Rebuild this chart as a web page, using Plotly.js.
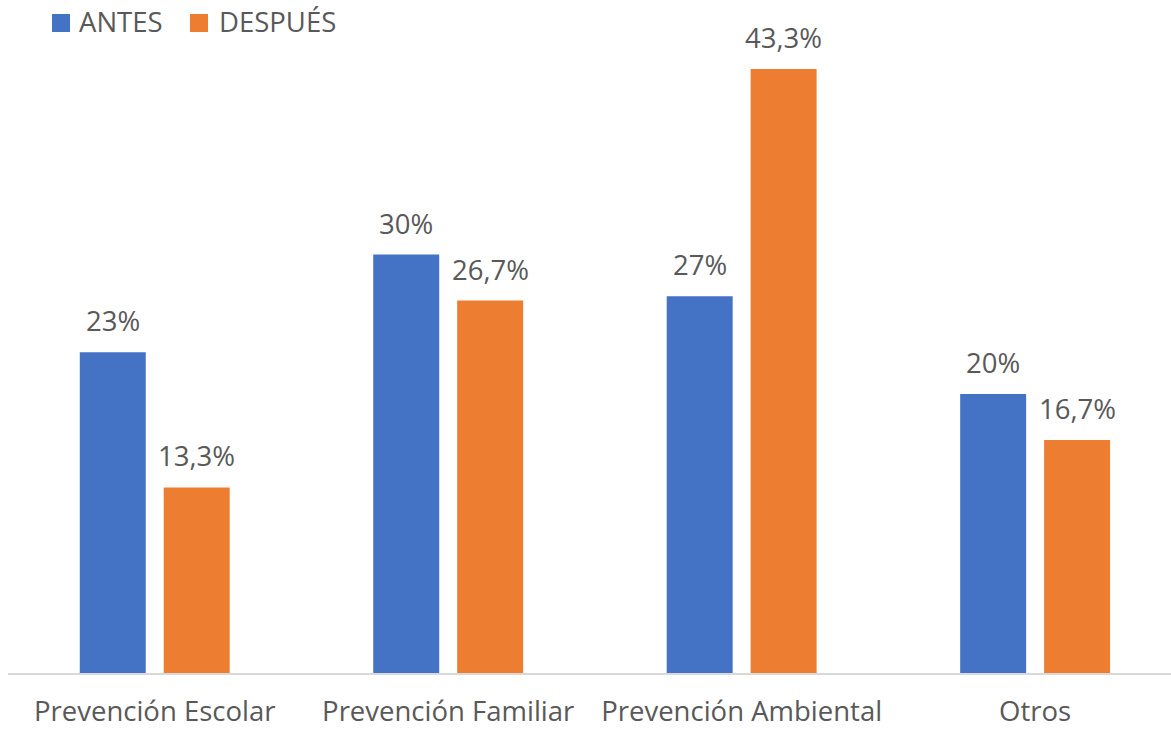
<!DOCTYPE html>
<html>
<head>
<meta charset="utf-8">
<script src="https://cdn.plot.ly/plotly-3.0.1.min.js"></script>
<style>html,body{margin:0;padding:0;background:#fff;}#chart{width:1171px;height:729px;}</style>
</head>
<body>
<div id="chart"></div>
<script>
const categories = ["Prevención Escolar", "Prevención Familiar", "Prevención Ambiental", "Otros"];
const antesValues = [23, 30, 27, 20];
const despuesValues = [13.3, 26.7, 43.3, 16.7];
const antesLabels = ["23%", "30%", "27%", "20%"];
const despuesLabels = ["13,3%", "26,7%", "43,3%", "16,7%"];
const seriesNames = ["ANTES", "DESPUÉS"];
const seriesColors = ["#4472C4", "#ED7D31"];

const FONT = "'Open Sans', 'Noto Sans', sans-serif";
const GRAY = "#595959";
const FS = 27.5;

const traces = [
  {type: "bar", name: seriesNames[0], x: categories, y: antesValues, marker: {color: seriesColors[0]}, hoverinfo: "none", showlegend: false},
  {type: "bar", name: seriesNames[1], x: categories, y: despuesValues, marker: {color: seriesColors[1]}, hoverinfo: "none", showlegend: false}
];

const annotations = [];
categories.forEach((c, i) => {
  annotations.push({x: c, y: antesValues[i], text: antesLabels[i], xshift: -42, yshift: 11, yanchor: "bottom", showarrow: false, font: {family: FONT, size: FS, color: GRAY}});
  annotations.push({x: c, y: despuesValues[i], text: despuesLabels[i], xshift: 42, yshift: 11, yanchor: "bottom", showarrow: false, font: {family: FONT, size: FS, color: GRAY}});
});

// custom legend (pixel -> paper: plot area x 8..1171, y 50..673)
const px2x = p => (p - 8) / 1163;
const py2y = p => (673 - p) / 623;
const legendSquares = [[52, 70], [190, 208]];
const legendTextX = [77, 217];
const shapes = [];
seriesNames.forEach((n, k) => {
  shapes.push({type: "rect", xref: "paper", yref: "paper",
    x0: px2x(legendSquares[k][0]), x1: px2x(legendSquares[k][1]),
    y0: py2y(32), y1: py2y(14), fillcolor: seriesColors[k], line: {width: 0}});
  annotations.push({xref: "paper", yref: "paper", x: px2x(legendTextX[k]), y: py2y(22),
    xanchor: "left", yanchor: "middle", text: n, showarrow: false,
    font: {family: FONT, size: FS, color: GRAY}});
});

const layout = {
  width: 1171, height: 729,
  margin: {l: 8, r: 0, t: 50, b: 56},
  paper_bgcolor: "#fff", plot_bgcolor: "#fff",
  font: {family: FONT, color: GRAY, size: FS},
  barmode: "group",
  bargap: 0.428,
  bargroupgap: 0.214,
  xaxis: {
    range: [-0.5, 3.463],
    showline: true, linecolor: "#D9D9D9", linewidth: 1.5,
    ticks: "", ticklabelstandoff: 13,
    tickfont: {family: FONT, size: FS, color: GRAY},
    showgrid: false, zeroline: false, fixedrange: true
  },
  yaxis: {
    range: [0, 44.66],
    visible: false, showgrid: false, zeroline: false, fixedrange: true
  },
  showlegend: false,
  shapes: shapes,
  annotations: annotations
};

Plotly.newPlot("chart", traces, layout, {displayModeBar: false, staticPlot: true});
</script>
</body>
</html>
